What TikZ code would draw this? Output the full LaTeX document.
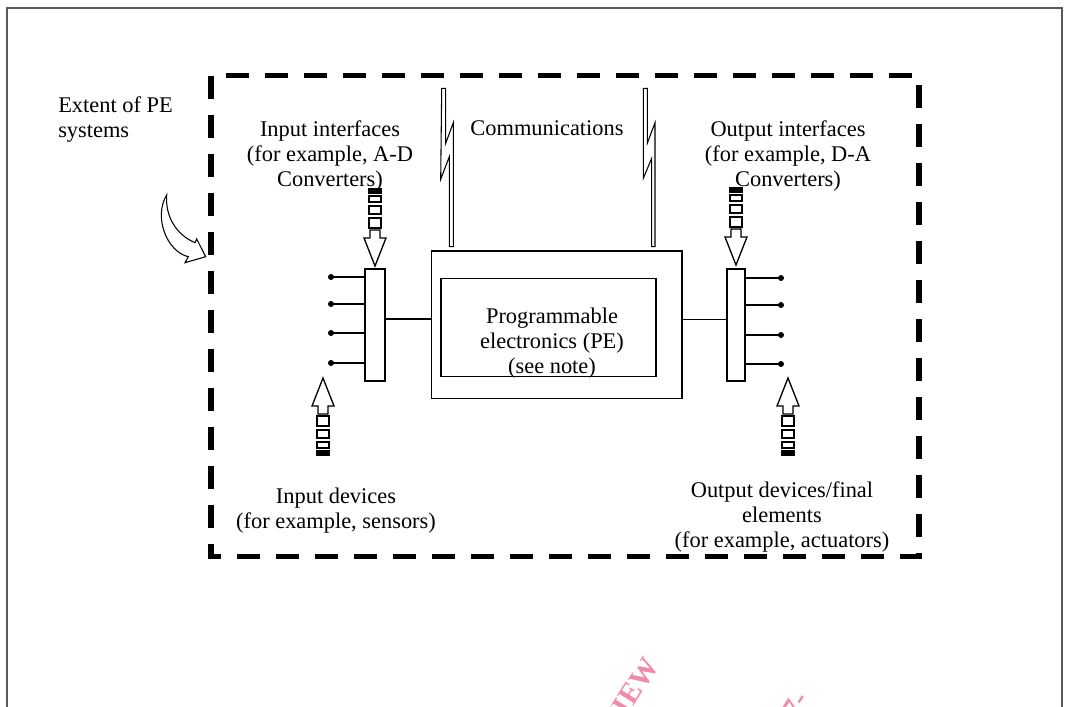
\documentclass[tikz,border=0pt]{standalone}
\usepackage{fontspec}
\setmainfont{Liberation Serif}
\definecolor{wmpink}{RGB}{240,140,170}
\begin{document}
\begin{tikzpicture}[x=0.75pt,y=-0.75pt,
  lbl/.style={font=\fontsize{16.8}{18.75}\selectfont, align=center, inner sep=0pt},
  box/.style={draw, line width=1.1pt, inner sep=0pt},
  lead/.style={line width=1.1pt},
  leaddot/.style={fill, circle, inner sep=0pt, minimum size=4.5pt},
  dashbox/.style={line width=4.1pt, dash pattern=on 17.25pt off 12pt},
  outerframe/.style={draw=black!65, line width=1.1pt},
  bolt/.style={draw, line width=0.8pt, line join=miter},
  sarrow/.style={draw, line width=1pt, fill=white},
  curvarrow/.style={draw, line width=0.8pt, fill=white},
  wm/.style={text=wmpink, font=\bfseries\fontsize{22}{22}\selectfont, rotate=58, inner sep=0pt},
  striped/.pic={
    \draw[sarrow] (0,0) -- (11,-28) -- (5,-28) -- (5,-36) -- (-5,-36) -- (-5,-28) -- (-11,-28) -- cycle;
    \draw[sarrow] (-6,-38) rectangle (6,-48);
    \draw[sarrow] (-6,-52) rectangle (6,-60);
    \draw[sarrow] (-6,-64) rectangle (6,-70);
    \fill (-7,-72) rectangle (7,-78);
  }
]
\useasboundingbox (0,0) rectangle (1068,707);

% outer frame
\draw[outerframe] (7,707) -- (7,8) -- (1062,8) -- (1062,707);

% watermark fragments
\begin{scope}
  \clip (0,0) rectangle (1068,707);
  \node[wm, anchor=east] (wm1) at (652,660) {VIEW};
  \node[wm, anchor=east] (wm2) at (802,694) {07-};
\end{scope}

% extent of PE systems
\draw[dashbox] (211,75.5) rectangle (919,556.5);

% curved arrow
\draw[curvarrow] (166.7,195) .. controls (165,216.7) and (176.7,235) .. (195,242.7)
  -- (196.7,239) -- (205.7,256.7) -- (185,262.7) -- (188.3,256.7)
  .. controls (166.7,251.7) and (153.3,216.7) .. (166.7,195) -- cycle;

% PE boxes
\node[box, minimum width=187.9pt, minimum height=110.6pt] (pe) at (556.75,324.75) {};
\node[box, minimum width=161.25pt, minimum height=73.5pt] (pecore) at (548.5,327.5) {};
\node[lbl] (pelbl) at (552,343) {Programmable\\electronics (PE)\\(see note)};

% interface bars
\node[box, minimum width=15pt, minimum height=84pt] (lbar) at (375,325) {};
\node[box, minimum width=13.5pt, minimum height=84pt] (rbar) at (736,325) {};

% connectors bar <-> PE
\path ([yshift=4.5pt]lbar.east) coordinate (lc);
\draw[lead] (lc) -- (lc -| pe.west);
\path ([yshift=3.75pt]pe.east) coordinate (rc);
\draw[lead] (rc) -- (rc -| rbar.west);

% leads
\foreach \i/\yy in {1/277,2/304,3/333,4/363}{
  \coordinate (ld\i) at (331,\yy);
  \draw[lead] (ld\i) -- (ld\i -| lbar.west);
  \node[leaddot] (ldot\i) at (ld\i) {};
}
\foreach \i/\yy in {1/278,2/305,3/335,4/364}{
  \coordinate (rd\i) at (781,\yy);
  \draw[lead] (rd\i) -- (rd\i -| rbar.east);
  \node[leaddot] (rdot\i) at (rd\i) {};
}

% communications bolts
\draw[bolt] (441.7,88.3) -- (445.7,88.3) -- (445.7,143.3) -- (453.3,122.7) -- (453.3,246.7)
  -- (449.3,246.7) -- (449.3,156.7) -- (440.7,179.3) -- cycle;
\draw[bolt] (643.3,88.3) -- (647.3,88.3) -- (647.3,143.3) -- (655,122.7) -- (655,246.7)
  -- (651.7,246.7) -- (651.7,158.3) -- (643.3,178.3) -- cycle;

% striped arrows
\pic at (375,266) {striped};
\pic at (736,265) {striped};
\pic[yscale=-1] at (323,378) {striped};
\pic[yscale=-1] at (788,378) {striped};

% labels
\node[lbl, anchor=west, align=left] (extentlbl) at (58,119.5) {Extent of PE\\systems};
\node[lbl] (inlbl) at (330,156) {Input interfaces\\(for example, A-D\\Converters)};
\node[lbl] (commlbl) at (547,128) {Communications};
\node[lbl] (outlbl) at (788,156) {Output interfaces\\(for example, D-A\\Converters)};
\node[lbl] (indevlbl) at (336,511) {Input devices\\(for example, sensors)};
\node[lbl] (outdevlbl) at (782,517) {Output devices/final\\elements\\(for example, actuators)};
\end{tikzpicture}
\end{document}
